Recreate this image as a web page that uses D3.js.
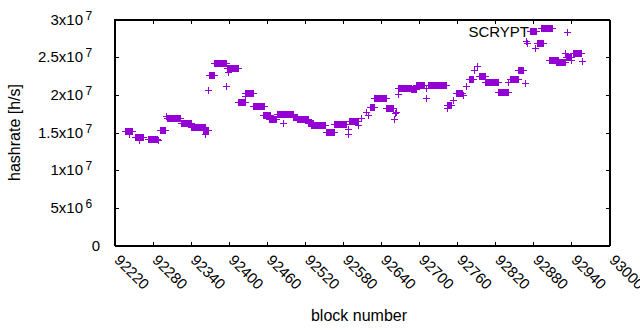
<!DOCTYPE html>
<html>
<head>
<meta charset="utf-8">
<script src="https://cdn.jsdelivr.net/npm/d3@7"></script>
<style>
	body { margin: 0; background: #fff; }
	text { font-family: "Liberation Sans", Arial, sans-serif; fill: #000; }
</style>
</head>
<body>
<svg class="chart"></svg>
<script>

// Hashrate runs: every block from runStart to runEnd sits at runRate [h/s]

var runStart = [92237, 92243, 92253, 92260, 92273, 92289, 92292, 92302, 92303, 92326,
	92342, 92360, 92363, 92368, 92370, 92378, 92396, 92398, 92399, 92415,
	92426, 92426, 92439, 92454, 92465, 92477, 92486, 92502, 92509, 92525,
	92531, 92554, 92567, 92588, 92589, 92591, 92604, 92609, 92617, 92620,
	92624, 92630, 92649, 92661, 92662, 92664, 92667, 92667, 92688, 92696,
	92711, 92712, 92714, 92744, 92745, 92754, 92759, 92770, 92775, 92779,
	92788, 92792, 92795, 92804, 92825, 92841, 92844, 92857, 92867, 92869,
	92871, 92875, 92883, 92886, 92893, 92906, 92916, 92931, 92932, 92940,
	92943, 92957];

var runEnd = [92248, 92243, 92265, 92260, 92287, 92289, 92300, 92302, 92324, 92342,
	92363, 92368, 92363, 92368, 92378, 92396, 92396, 92416, 92399, 92426,
	92439, 92426, 92457, 92466, 92475, 92502, 92486, 92509, 92525, 92533,
	92552, 92567, 92586, 92588, 92589, 92604, 92604, 92609, 92617, 92620,
	92630, 92649, 92659, 92661, 92662, 92664, 92688, 92667, 92696, 92709,
	92711, 92712, 92743, 92744, 92751, 92754, 92769, 92770, 92775, 92786,
	92788, 92792, 92804, 92825, 92841, 92841, 92856, 92864, 92867, 92869,
	92871, 92885, 92883, 92896, 92910, 92919, 92931, 92931, 92940, 92940,
	92956, 92957];

var runRate = [1.51e7, 1.47e7, 1.43e7, 1.39e7, 1.41e7, 1.39e7, 1.52e7, 1.71e7, 1.68e7, 1.62e7,
	1.57e7, 1.52e7, 1.48e7, 2.06e7, 2.26e7, 2.41e7, 2.11e7, 2.35e7, 2.30e7, 1.90e7,
	2.02e7, 1.98e7, 1.84e7, 1.72e7, 1.67e7, 1.74e7, 1.62e7, 1.70e7, 1.67e7, 1.62e7,
	1.59e7, 1.50e7, 1.61e7, 1.54e7, 1.47e7, 1.65e7, 1.59e7, 1.68e7, 1.77e7, 1.73e7,
	1.83e7, 1.95e7, 1.82e7, 1.67e7, 1.75e7, 1.77e7, 2.09e7, 2.00e7, 2.07e7, 2.12e7,
	2.08e7, 1.95e7, 2.12e7, 1.82e7, 1.86e7, 1.93e7, 2.02e7, 1.99e7, 2.11e7, 2.21e7,
	2.32e7, 2.38e7, 2.24e7, 2.17e7, 2.03e7, 2.17e7, 2.21e7, 2.32e7, 2.15e7, 2.71e7,
	2.68e7, 2.84e7, 2.61e7, 2.68e7, 2.88e7, 2.45e7, 2.43e7, 2.55e7, 2.50e7, 2.45e7,
	2.55e7, 2.44e7];

var xTicks = [92220, 92280, 92340, 92400, 92460, 92520, 92580, 92640, 92700,
	92760, 92820, 92880, 92940, 93000];

var yTicks = [0, 5e6, 1e7, 1.5e7, 2e7, 2.5e7, 3e7];

var seriesName = "SCRYPT";

// Basic dimensions:

var width = 640,
	height = 330,
	plotLeft = 114.5,
	plotRight = 609.5,
	plotTop = 19.5,
	plotBottom = 245.5,
	tickLen = 4,
	half = 3.5,
	fontSize = "15px",
	titleSize = "16px",
	color = "#9400d3";

var chart = d3.select(".chart")
	.attr("width", width)
	.attr("height", height);

var x = d3.scaleLinear()
	.domain([92220, 93000])
	.range([plotLeft, plotRight]);

var y = d3.scaleLinear()
	.domain([0, 3e7])
	.range([plotBottom, plotTop]);

// Inward ticks on all four sides, gnuplot style:

chart.append("g")
	.attr("transform", "translate(0," + plotBottom + ")")
	.call(d3.axisBottom(x).tickValues(xTicks).tickSize(-tickLen).tickSizeOuter(0).tickFormat(""));
chart.append("g")
	.attr("transform", "translate(0," + plotTop + ")")
	.call(d3.axisTop(x).tickValues(xTicks).tickSize(-tickLen).tickSizeOuter(0).tickFormat(""));
chart.append("g")
	.attr("transform", "translate(" + plotLeft + ",0)")
	.call(d3.axisLeft(y).tickValues(yTicks).tickSize(-tickLen).tickSizeOuter(0).tickFormat(""));
chart.append("g")
	.attr("transform", "translate(" + plotRight + ",0)")
	.call(d3.axisRight(y).tickValues(yTicks).tickSize(-tickLen).tickSizeOuter(0).tickFormat(""));

chart.selectAll(".tick line, .domain")
	.attr("stroke", "#000")
	.attr("shape-rendering", "crispEdges");

chart.append("rect")
	.attr("x", plotLeft)
	.attr("y", plotTop)
	.attr("width", plotRight - plotLeft)
	.attr("height", plotBottom - plotTop)
	.attr("fill", "none")
	.attr("stroke", "#000")
	.attr("shape-rendering", "crispEdges");

// Y tick labels like 2.5x10^7:

var yLabels = chart.selectAll(".ylab")
	.data(yTicks)
.enter().append("g")
	.attr("class", "ylab")
	.attr("transform", function(d) { return "translate(0," + y(d) + ")"; });

yLabels.append("text")
	.attr("x", function(d) { return d == 0 ? 100 : 83; })
	.attr("y", 5)
	.style("text-anchor", "end")
	.style("font-size", fontSize)
	.text(function(d) {
		if (d == 0) { return "0"; }
		var e = Math.floor(Math.log10(d));
		return (+(d / Math.pow(10, e)).toFixed(2)) + "x10";
	});

yLabels.filter(function(d) { return d != 0; })
	.append("text")
	.attr("x", 85.5)
	.attr("y", 0)
	.style("font-size", "12px")
	.text(function(d) { return Math.floor(Math.log10(d)); });

// X tick labels, rotated:

chart.selectAll(".xlab")
	.data(xTicks)
.enter().append("text")
	.attr("class", "xlab")
	.attr("transform", function(d) { return "translate(" + (x(d) - 1) + ",261) rotate(45)"; })
	.style("font-size", fontSize)
	.text(function(d) { return d; });

// Axis titles:

chart.append("text")
	.attr("x", (plotLeft + plotRight) / 2 - 3)
	.attr("y", 321)
	.style("text-anchor", "middle")
	.style("font-size", titleSize)
	.text("block number");

chart.append("text")
	.attr("transform", "translate(20," + ((plotTop + plotBottom) / 2) + ") rotate(-90)")
	.style("text-anchor", "middle")
	.style("font-size", titleSize)
	.text("hashrate [h/s]");

// Points: a run of "+" marks merges into a bar with arms on both ends:

var runs = chart.selectAll(".run")
	.data(runStart)
.enter().append("g")
	.attr("class", "run")
	.attr("shape-rendering", "crispEdges");

runs.append("rect")
	.attr("x", function(d, i) { return x(runStart[i]) - 0.5; })
	.attr("y", function(d, i) { return y(runRate[i]) - half; })
	.attr("width", function(d, i) { return x(runEnd[i]) - x(runStart[i]) + 1; })
	.attr("height", half * 2)
	.attr("fill", color);

runs.append("line")
	.attr("x1", function(d, i) { return x(runStart[i]) - half; })
	.attr("x2", function(d, i) { return x(runEnd[i]) + half; })
	.attr("y1", function(d, i) { return y(runRate[i]); })
	.attr("y2", function(d, i) { return y(runRate[i]); })
	.attr("stroke", color);

// Key:

chart.append("text")
	.attr("x", 529)
	.attr("y", 37)
	.style("text-anchor", "end")
	.style("font-size", fontSize)
	.text(seriesName);

chart.append("path")
	.attr("d", "M564,32H571M567.5,28.5V35.5")
	.attr("stroke", color)
	.attr("shape-rendering", "crispEdges");

</script>
</body>
</html>
